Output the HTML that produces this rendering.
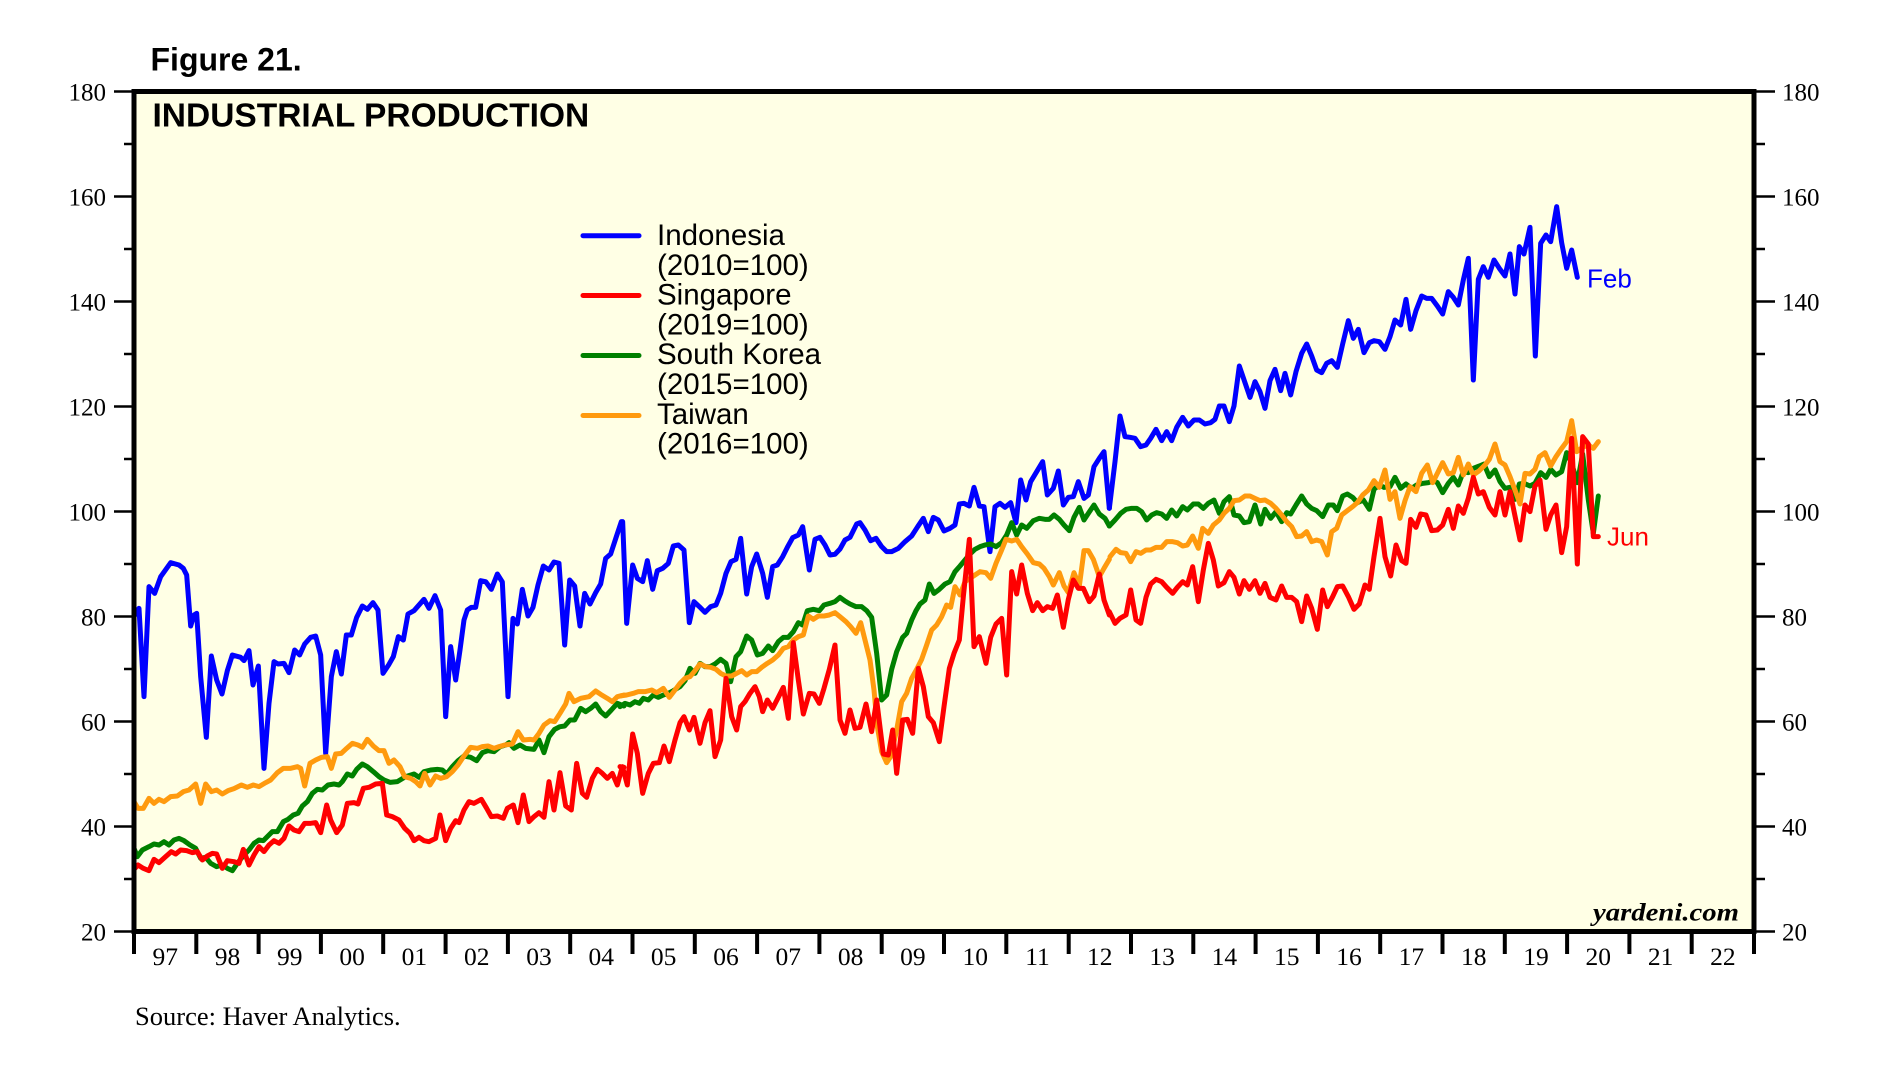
<!DOCTYPE html>
<html>
<head>
<meta charset="utf-8">
<style>
html,body{margin:0;padding:0;background:#fff;}
svg{display:block;}
</style>
</head>
<body>
<svg width="1902" height="1087" viewBox="0 0 1902 1087" xmlns="http://www.w3.org/2000/svg">
<rect x="0" y="0" width="1902" height="1087" fill="#ffffff"/>
<!-- plot background -->
<rect x="134" y="91.5" width="1620" height="840" fill="#FFFFE5"/>

<!-- titles -->
<text x="150.5" y="70.5" font-family="Liberation Sans, Arial, sans-serif" font-weight="bold" font-size="32" fill="#000">Figure 21.</text>
<text x="152.5" y="126.5" font-family="Liberation Sans, Arial, sans-serif" font-weight="bold" font-size="33.5" fill="#000">INDUSTRIAL PRODUCTION</text>

<!-- series (chunked, zoom coordinates scaled by 1/3) -->
<g fill="none" stroke-linejoin="round" stroke-linecap="round" stroke-width="15">
 <!-- Indonesia -->
 <g stroke="#0000FF">
  <polyline transform="translate(134,500) scale(0.33333)" points="3,345 15,325 30,590 45,260 62,280 80,230 110,188 135,195 148,205 158,225 170,378 180,345 188,340 200,530 217,712 232,468 248,540 264,582 280,512 295,465 320,472 330,482 345,452 357,555 373,498 390,805 405,610 420,485 432,492 450,490 465,518 482,450 497,465 512,432 530,412 545,408 560,465 575,760 592,530 607,455 622,522 637,405 652,405 668,352 685,318 700,328 717,308 732,330 747,520 765,493 778,470 793,410 808,420 822,342 840,332 870,298 885,325 903,287 920,330 935,650 950,440 965,540 978,450 990,360 1000,330 1012,322 1025,322 1040,242 1055,245 1072,268 1090,222 1105,246 1122,590 1137,355 1150,372 1165,268 1182,348 1197,322 1212,255 1228,198 1245,210 1260,186 1275,190 1292,435 1307,240 1322,258 1338,378 1352,280 1368,312 1385,278 1400,252 1415,175 1430,162 1447,110 1462,65"/>
  <polyline transform="translate(620,400) scale(0.33333)" points="8,365 20,670 38,495 52,535 68,545 82,482 98,568 112,512 128,505 145,490 160,438 175,435 192,450 208,668 222,605 238,620 255,637 272,620 288,615 302,580 318,520 333,485 348,478 362,415 380,582 395,500 410,462 428,520 442,592 458,500 472,495 488,470 502,442 518,413 535,405 548,380 568,510 585,418 600,412 615,435 630,465 645,463 660,447 675,420 690,412 710,372 720,368 735,390 752,422 768,415 785,440 800,455 815,455 835,445 855,425 875,408 893,380 910,355 925,395 940,352 955,360 972,393 990,385 1005,375 1018,312 1032,310 1048,318 1062,262 1078,318 1092,320 1110,455 1125,320 1140,310 1155,322 1172,308 1188,368 1202,240 1218,300 1232,245 1250,215 1268,185 1282,285 1300,265 1315,213 1330,315 1345,292 1360,290 1375,245 1392,295 1405,285 1422,200 1438,175 1452,155 1468,325"/>
  <polyline transform="translate(1100,190) scale(0.33333)" points="28,955 45,815 60,678 75,740 90,742 105,745 122,770 138,765 152,745 168,718 185,752 200,725 215,752 230,712 248,682 265,708 282,690 298,690 315,702 332,698 345,688 358,648 372,648 388,695 402,648 418,528 435,578 450,622 465,575 480,605 495,655 510,572 525,538 542,602 555,550 572,615 588,545 605,490 620,462 635,498 650,540 665,548 680,520 695,512 712,532 728,462 745,392 760,445 775,418 792,488 808,458 822,452 838,455 855,478 870,440 885,390 902,405 918,328 932,418 948,362 965,318 980,325 995,325 1012,348 1028,372 1045,305 1060,322 1075,345 1090,270 1105,205 1120,570 1135,268 1150,230 1165,262 1182,210 1198,235 1215,258 1230,192 1245,312 1258,170 1272,192 1290,112 1306,498 1322,160 1338,135 1352,155 1370,50 1385,158 1400,235 1415,180 1432,262"/>
 </g>
 <!-- South Korea -->
 <g stroke="#008000">
  <polyline transform="translate(134,500) scale(0.33333)" points="0,1045 10,1070 25,1050 45,1040 60,1032 75,1035 90,1025 105,1035 120,1020 135,1015 150,1022 168,1035 185,1045 200,1075 215,1072 230,1090 248,1100 265,1095 280,1105 295,1112 310,1090 330,1065 345,1050 360,1030 375,1020 388,1022 400,1010 415,995 430,995 448,965 462,958 478,945 492,940 505,918 520,905 535,880 550,868 565,870 582,855 600,852 615,855 625,845 640,822 655,828 668,808 685,792 700,800 718,815 735,830 750,840 768,847 790,845 815,830 840,822 855,832 870,815 890,810 910,808 925,810 938,822 955,800 972,782 990,768 1010,772 1028,782 1045,758 1062,752 1080,755 1098,740 1115,735 1125,728 1140,745 1158,735 1175,745 1200,748 1215,720 1230,758 1245,710 1262,688 1278,680 1292,678 1308,660 1322,660 1340,625 1355,635 1370,625 1385,612 1400,635 1415,648 1432,630 1450,610 1470,618"/>
  <polyline transform="translate(620,400) scale(0.33333)" points="0,920 15,910 30,915 45,905 58,910 70,895 85,900 100,885 115,892 130,885 145,880 160,872 180,860 195,842 210,805 225,820 240,790 255,800 270,800 285,792 302,778 318,790 332,845 348,770 362,755 380,708 395,720 412,765 428,760 445,738 458,752 475,725 490,712 505,712 520,695 535,668 548,675 562,632 580,628 598,632 612,615 630,610 645,605 660,592 675,603 690,612 708,620 725,620 740,632 755,652 770,760 785,900 800,885 815,808 830,755 848,712 860,700 875,660 888,632 900,612 915,600 928,552 942,580 958,568 975,552 990,545 1005,515 1020,498 1035,480 1050,462 1065,448 1080,440 1095,435 1112,432 1128,440 1145,428 1160,405 1175,368 1190,405 1205,375 1220,385 1240,362 1258,355 1275,358 1288,358 1302,345 1318,358 1332,375 1348,392 1362,352 1378,322 1392,360 1405,340 1422,315 1438,342 1455,355 1468,378"/>
  <polyline transform="translate(1100,190) scale(0.33333)" points="28,1008 45,990 62,970 78,958 95,955 110,955 125,965 140,990 155,975 170,968 185,972 200,985 215,960 230,978 248,950 262,960 280,942 295,942 310,955 325,940 342,930 358,970 372,935 388,920 402,975 418,978 432,998 448,995 465,945 482,1002 495,958 512,985 528,965 545,995 560,968 572,972 588,945 605,918 620,942 635,955 650,962 668,980 685,945 700,945 712,962 728,918 742,912 758,922 772,938 790,930 808,958 822,898 838,885 852,892 870,890 885,862 902,895 918,882 935,895 950,885 968,880 985,878 1000,872 1012,878 1028,908 1045,880 1060,862 1075,885 1090,845 1105,848 1120,835 1138,828 1152,822 1168,860 1185,840 1200,875 1215,895 1230,892 1245,928 1258,882 1272,880 1290,888 1305,880 1322,848 1338,862 1352,838 1368,855 1385,845 1400,788 1415,820 1432,878 1448,792 1465,930 1480,1030 1495,918"/>
 </g>
 <!-- Taiwan -->
 <g stroke="#FF9A0E">
  <polyline transform="translate(134,500) scale(0.33333)" points="0,905 12,925 28,925 45,895 60,910 75,898 90,905 110,890 130,888 148,875 165,870 185,852 200,910 215,852 232,875 248,870 265,882 282,872 300,866 322,855 340,862 358,855 375,860 395,848 410,840 430,818 448,805 470,805 490,800 500,805 512,858 528,790 545,780 562,772 580,770 592,805 605,762 622,760 638,745 655,730 672,735 685,742 700,718 718,738 735,752 750,752 765,790 780,780 798,800 812,830 830,835 845,845 858,858 872,820 888,855 905,828 920,835 938,830 955,815 972,795 990,768 1010,742 1030,745 1045,740 1062,738 1080,745 1095,740 1112,735 1135,732 1152,695 1168,720 1188,718 1200,720 1215,700 1230,675 1248,662 1262,665 1278,640 1295,612 1305,580 1320,605 1340,595 1365,590 1385,573 1400,583 1420,595 1435,605 1450,590 1470,585"/>
  <polyline transform="translate(620,400) scale(0.33333)" points="0,888 20,885 40,880 55,875 75,875 95,870 110,878 130,865 148,892 165,870 180,850 195,835 210,830 225,812 240,792 258,800 272,802 288,808 302,820 318,828 335,828 350,820 365,812 380,825 395,815 410,815 425,802 442,790 458,780 475,765 490,745 505,740 520,720 535,710 550,705 565,648 580,658 595,648 612,648 628,645 645,638 660,650 678,665 692,680 708,700 722,668 735,720 750,780 762,870 772,980 785,1055 800,1088 812,1070 830,990 845,905 860,880 875,835 890,808 905,778 920,735 935,690 950,675 965,650 980,615 992,622 1005,560 1020,585 1035,545 1050,535 1065,525 1080,515 1098,518 1112,535 1128,490 1145,450 1158,418 1175,423 1190,418 1205,440 1222,462 1240,488 1258,492 1272,505 1288,530 1300,555 1318,518 1332,558 1345,578 1362,518 1378,558 1392,452 1405,452 1420,478 1438,530 1452,505 1468,478"/>
  <polyline transform="translate(1100,190) scale(0.33333)" points="30,1100 48,1078 62,1088 78,1090 92,1115 108,1085 122,1090 138,1080 152,1080 168,1072 185,1072 200,1055 218,1055 232,1058 248,1068 262,1065 278,1038 295,1075 308,1015 325,1030 340,1005 358,990 372,970 388,955 402,932 418,930 435,918 450,918 465,925 480,932 495,930 512,940 528,955 545,975 560,995 575,1010 590,1040 605,1038 620,1025 635,1055 650,1050 665,1055 682,1095 695,1025 710,1015 725,975 742,962 758,950 772,938 788,915 805,900 822,872 838,892 855,840 870,928 885,905 900,985 915,932 930,890 948,905 965,850 982,825 998,878 1012,850 1028,818 1045,852 1060,848 1075,802 1090,855 1105,822 1120,855 1138,842 1155,825 1168,808 1185,762 1200,815 1215,825 1230,860 1245,900 1260,942 1275,850 1290,852 1305,838 1318,800 1335,788 1352,828 1368,800 1385,775 1400,755 1415,692 1430,785 1448,772 1465,765 1480,775 1495,755"/>
 </g>
 <!-- Singapore -->
 <g stroke="#FF0000">
  <polyline transform="translate(134,500) scale(0.33333)" points="0,1108 12,1095 28,1105 45,1112 60,1078 75,1088 95,1070 112,1055 125,1062 140,1050 158,1052 175,1058 190,1055 205,1080 220,1068 235,1060 248,1062 265,1105 280,1082 300,1085 315,1090 328,1048 345,1095 360,1065 375,1040 390,1055 405,1035 420,1022 435,1030 450,1015 465,978 480,990 495,995 512,970 530,970 545,968 560,998 578,915 590,960 608,998 625,975 640,910 660,908 672,912 688,865 705,862 725,852 745,850 758,945 775,950 795,960 812,985 828,1000 840,1022 855,1012 870,1022 885,1025 905,1015 918,945 935,1022 950,985 965,962 975,968 990,930 1005,905 1020,910 1042,898 1058,925 1072,950 1090,948 1108,955 1120,925 1138,915 1152,968 1168,885 1185,965 1200,950 1215,938 1230,952 1245,845 1260,930 1278,818 1295,918 1312,930 1328,790 1345,880 1358,892 1375,835 1390,808 1405,820 1420,835 1435,820 1450,855 1465,800 1470,802"/>
  <polyline transform="translate(620,400) scale(0.33333)" points="0,1100 10,1110 22,1155 38,1002 52,1060 68,1180 85,1120 100,1090 118,1088 132,1038 148,1085 165,1020 180,968 192,950 208,990 222,952 240,1030 255,968 270,932 285,1070 302,1020 318,835 335,950 350,990 362,920 375,905 390,880 405,860 418,890 428,935 442,900 458,925 475,892 490,862 505,955 520,728 535,840 550,942 568,880 582,882 598,910 612,865 628,808 645,735 660,960 675,1000 690,930 705,985 720,982 738,912 755,995 770,900 790,1062 805,1065 818,990 830,1120 848,960 862,958 878,1000 895,805 910,860 925,950 940,968 958,1025 972,920 988,805 1002,760 1018,720 1030,590 1048,418 1062,740 1078,710 1098,790 1112,712 1128,672 1145,655 1160,825 1175,515 1190,582 1205,495 1222,580 1238,632 1252,608 1268,632 1282,620 1298,625 1312,585 1330,682 1345,598 1360,540 1375,565 1390,565 1408,605 1422,588 1438,522 1452,600 1468,645"/>
  <polyline transform="translate(1100,190) scale(0.33333)" points="28,1265 45,1300 60,1285 78,1275 92,1200 108,1290 122,1300 138,1222 152,1182 168,1168 185,1175 200,1192 218,1210 232,1192 248,1175 262,1185 278,1130 295,1235 310,1140 325,1060 340,1110 355,1188 372,1178 388,1145 402,1162 418,1212 432,1172 448,1198 465,1172 480,1210 495,1180 510,1222 528,1230 545,1188 560,1222 575,1222 590,1235 605,1295 620,1218 635,1255 652,1318 668,1200 682,1250 698,1220 712,1190 728,1188 745,1220 762,1258 778,1242 795,1185 808,1198 822,1100 840,985 855,1100 872,1158 888,1065 905,1112 918,1120 932,988 948,1012 962,972 978,975 995,1022 1012,1020 1028,1005 1045,958 1060,1015 1075,948 1090,970 1105,925 1120,862 1135,912 1150,905 1168,952 1185,975 1200,905 1215,975 1230,905 1245,978 1260,1050 1275,945 1290,965 1305,888 1320,870 1338,1018 1352,975 1368,945 1385,1088 1400,1010 1415,745 1432,1122 1448,740 1465,762 1480,1040 1495,1040"/>
 </g>
</g>

<!-- legend -->
<g stroke-width="5" stroke-linecap="round">
 <line x1="583" y1="235.7" x2="639" y2="235.7" stroke="#0000FF"/>
 <line x1="583" y1="295.5" x2="639" y2="295.5" stroke="#FF0000"/>
 <line x1="583" y1="355.5" x2="639" y2="355.5" stroke="#008000"/>
 <line x1="583" y1="415.5" x2="639" y2="415.5" stroke="#FF9A0E"/>
</g>
<g font-family="Liberation Sans, Arial, sans-serif" font-size="29.5" fill="#000">
 <text x="657" y="245">Indonesia</text>
 <text x="657" y="274.8">(2010=100)</text>
 <text x="657" y="304.6">Singapore</text>
 <text x="657" y="334.4">(2019=100)</text>
 <text x="657" y="364.2">South Korea</text>
 <text x="657" y="394">(2015=100)</text>
 <text x="657" y="423.8">Taiwan</text>
 <text x="657" y="453.6">(2016=100)</text>
</g>

<!-- end labels -->
<text x="1587" y="287.3" font-family="Liberation Sans, Arial, sans-serif" font-size="26" fill="#0000FF">Feb</text>
<text x="1607" y="545.7" font-family="Liberation Sans, Arial, sans-serif" font-size="26" fill="#FF0000">Jun</text>

<!-- yardeni -->
<text x="1593" y="920.7" font-family="Liberation Serif, Times New Roman, serif" font-style="italic" font-weight="bold" font-size="25" textLength="146" lengthAdjust="spacingAndGlyphs" fill="#000">yardeni.com</text>

<!-- frame -->
<rect x="134" y="91.5" width="1620" height="840" fill="none" stroke="#000" stroke-width="5"/>

<!-- y ticks left/right -->
<g stroke="#000" stroke-width="2.5">
 <line x1="114" y1="91.5" x2="134" y2="91.5"/>
 <line x1="114" y1="196.5" x2="134" y2="196.5"/>
 <line x1="114" y1="301.5" x2="134" y2="301.5"/>
 <line x1="114" y1="406.5" x2="134" y2="406.5"/>
 <line x1="114" y1="511.5" x2="134" y2="511.5"/>
 <line x1="114" y1="616.5" x2="134" y2="616.5"/>
 <line x1="114" y1="721.5" x2="134" y2="721.5"/>
 <line x1="114" y1="826.5" x2="134" y2="826.5"/>
 <line x1="114" y1="931.5" x2="134" y2="931.5"/>
 <line x1="124" y1="144" x2="134" y2="144"/>
 <line x1="124" y1="249" x2="134" y2="249"/>
 <line x1="124" y1="354" x2="134" y2="354"/>
 <line x1="124" y1="459" x2="134" y2="459"/>
 <line x1="124" y1="564" x2="134" y2="564"/>
 <line x1="124" y1="669" x2="134" y2="669"/>
 <line x1="124" y1="774" x2="134" y2="774"/>
 <line x1="124" y1="879" x2="134" y2="879"/>

 <line x1="1754" y1="91.5" x2="1775" y2="91.5"/>
 <line x1="1754" y1="196.5" x2="1775" y2="196.5"/>
 <line x1="1754" y1="301.5" x2="1775" y2="301.5"/>
 <line x1="1754" y1="406.5" x2="1775" y2="406.5"/>
 <line x1="1754" y1="511.5" x2="1775" y2="511.5"/>
 <line x1="1754" y1="616.5" x2="1775" y2="616.5"/>
 <line x1="1754" y1="721.5" x2="1775" y2="721.5"/>
 <line x1="1754" y1="826.5" x2="1775" y2="826.5"/>
 <line x1="1754" y1="931.5" x2="1775" y2="931.5"/>
 <line x1="1754" y1="144" x2="1765" y2="144"/>
 <line x1="1754" y1="249" x2="1765" y2="249"/>
 <line x1="1754" y1="354" x2="1765" y2="354"/>
 <line x1="1754" y1="459" x2="1765" y2="459"/>
 <line x1="1754" y1="564" x2="1765" y2="564"/>
 <line x1="1754" y1="669" x2="1765" y2="669"/>
 <line x1="1754" y1="774" x2="1765" y2="774"/>
 <line x1="1754" y1="879" x2="1765" y2="879"/>
</g>

<!-- y labels -->
<g font-family="Liberation Serif, Times New Roman, serif" font-size="25" fill="#000">
 <g text-anchor="end">
  <text x="106" y="100.5">180</text>
  <text x="106" y="205.5">160</text>
  <text x="106" y="310.5">140</text>
  <text x="106" y="415.5">120</text>
  <text x="106" y="520.5">100</text>
  <text x="106" y="625.5">80</text>
  <text x="106" y="730.5">60</text>
  <text x="106" y="835.5">40</text>
  <text x="106" y="940.5">20</text>
 </g>
 <g text-anchor="start">
  <text x="1782" y="100.5">180</text>
  <text x="1782" y="205.5">160</text>
  <text x="1782" y="310.5">140</text>
  <text x="1782" y="415.5">120</text>
  <text x="1782" y="520.5">100</text>
  <text x="1782" y="625.5">80</text>
  <text x="1782" y="730.5">60</text>
  <text x="1782" y="835.5">40</text>
  <text x="1782" y="940.5">20</text>
 </g>
</g>

<!-- x ticks -->
<g stroke="#000" stroke-width="4">
 <line x1="134" y1="931" x2="134" y2="954"/>
 <line x1="196.3" y1="931" x2="196.3" y2="954"/>
 <line x1="258.6" y1="931" x2="258.6" y2="954"/>
 <line x1="320.9" y1="931" x2="320.9" y2="954"/>
 <line x1="383.2" y1="931" x2="383.2" y2="954"/>
 <line x1="445.6" y1="931" x2="445.6" y2="954"/>
 <line x1="507.9" y1="931" x2="507.9" y2="954"/>
 <line x1="570.2" y1="931" x2="570.2" y2="954"/>
 <line x1="632.5" y1="931" x2="632.5" y2="954"/>
 <line x1="694.8" y1="931" x2="694.8" y2="954"/>
 <line x1="757.1" y1="931" x2="757.1" y2="954"/>
 <line x1="819.4" y1="931" x2="819.4" y2="954"/>
 <line x1="881.7" y1="931" x2="881.7" y2="954"/>
 <line x1="944" y1="931" x2="944" y2="954"/>
 <line x1="1006.3" y1="931" x2="1006.3" y2="954"/>
 <line x1="1068.7" y1="931" x2="1068.7" y2="954"/>
 <line x1="1131" y1="931" x2="1131" y2="954"/>
 <line x1="1193.3" y1="931" x2="1193.3" y2="954"/>
 <line x1="1255.6" y1="931" x2="1255.6" y2="954"/>
 <line x1="1317.9" y1="931" x2="1317.9" y2="954"/>
 <line x1="1380.2" y1="931" x2="1380.2" y2="954"/>
 <line x1="1442.5" y1="931" x2="1442.5" y2="954"/>
 <line x1="1504.8" y1="931" x2="1504.8" y2="954"/>
 <line x1="1567.1" y1="931" x2="1567.1" y2="954"/>
 <line x1="1629.4" y1="931" x2="1629.4" y2="954"/>
 <line x1="1691.7" y1="931" x2="1691.7" y2="954"/>
 <line x1="1754" y1="931" x2="1754" y2="954"/>
</g>

<!-- x labels -->
<g font-family="Liberation Serif, Times New Roman, serif" font-size="25.5" fill="#000" text-anchor="middle">
 <text x="165.2" y="965">97</text>
 <text x="227.5" y="965">98</text>
 <text x="289.8" y="965">99</text>
 <text x="352.1" y="965">00</text>
 <text x="414.4" y="965">01</text>
 <text x="476.7" y="965">02</text>
 <text x="539" y="965">03</text>
 <text x="601.3" y="965">04</text>
 <text x="663.6" y="965">05</text>
 <text x="726" y="965">06</text>
 <text x="788.3" y="965">07</text>
 <text x="850.6" y="965">08</text>
 <text x="912.9" y="965">09</text>
 <text x="975.2" y="965">10</text>
 <text x="1037.5" y="965">11</text>
 <text x="1099.8" y="965">12</text>
 <text x="1162.1" y="965">13</text>
 <text x="1224.4" y="965">14</text>
 <text x="1286.7" y="965">15</text>
 <text x="1349" y="965">16</text>
 <text x="1411.4" y="965">17</text>
 <text x="1473.7" y="965">18</text>
 <text x="1536" y="965">19</text>
 <text x="1598.3" y="965">20</text>
 <text x="1660.6" y="965">21</text>
 <text x="1722.9" y="965">22</text>
</g>

<!-- source -->
<text x="135" y="1025" font-family="Liberation Serif, Times New Roman, serif" font-size="26.5" fill="#000">Source: Haver Analytics.</text>
</svg>
</body>
</html>
